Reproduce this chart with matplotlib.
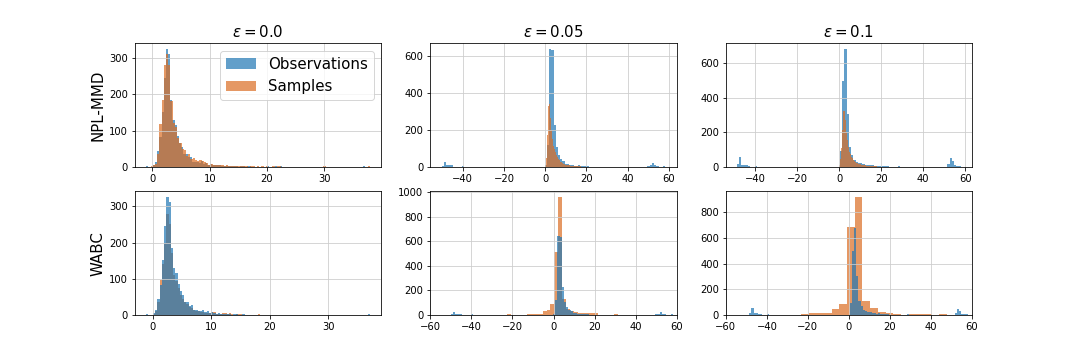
import numpy as np
import matplotlib
matplotlib.use("Agg")
import matplotlib.pyplot as plt

# --------------------------- Data (bin counts) ---------------------------

# observations, eps = 0.0 (100 bins)
OBS_EPS0_START, OBS_EPS0_WIDTH = -1.1, 0.382
OBS_EPS0 = [2, 0, 0, 6, 14, 44, 83, 151, 245, 325,
            311, 185, 130, 115, 85, 66, 55, 36, 36, 26,
            28, 14, 14, 12, 10, 15, 8, 10, 6, 8,
            5, 4, 5, 4, 3, 2, 3, 2, 1, 2,
            3, 1, 0, 2, 1, 0, 1, 1, 0, 0,
            0, 0, 0, 0, 0, 1, 0, 0, 0, 1,
            0, 1, 0, 0, 0, 0, 0, 0, 0, 0,
            0, 0, 0, 0, 0, 0, 0, 0, 0, 0,
            0, 0, 0, 0, 0, 0, 0, 0, 0, 0,
            0, 0, 0, 0, 0, 0, 0, 0, 0, 2]

# NPL-MMD samples, eps = 0.0
NPL_EPS0_START, NPL_EPS0_WIDTH = -0.73, 0.387
NPL_EPS0 = [0, 1, 4, 8, 35, 117, 183, 282, 311, 282,
            182, 120, 110, 80, 65, 50, 45, 30, 35, 22,
            25, 18, 15, 20, 16, 12, 10, 6, 8, 5,
            6, 5, 4, 5, 3, 4, 3, 2, 3, 2,
            1, 2, 1, 2, 1, 0, 1, 1, 0, 1,
            0, 1, 0, 1, 0, 0, 1, 0, 1, 1,
            0, 0, 0, 0, 0, 0, 0, 0, 0, 0,
            0, 0, 0, 0, 0, 0, 0, 0, 0, 1,
            0, 0, 0, 0, 0, 0, 0, 0, 0, 0,
            0, 0, 0, 0, 0, 0, 0, 0, 0, 1]

# WABC samples, eps = 0.0 (same bins as the observations)
WABC_EPS0 = [0, 0, 0, 3, 10, 35, 96, 140, 200, 278,
             250, 170, 110, 95, 75, 55, 45, 35, 30, 22,
             20, 14, 12, 10, 9, 8, 6, 6, 5, 9,
             7, 3, 3, 2, 5, 5, 4, 5, 2, 1,
             2, 3, 2, 1, 0, 1, 0, 0, 0, 0,
             2, 0, 0, 0, 0, 0, 0, 0, 0, 0,
             0, 0, 0, 0, 0, 0, 0, 0, 0, 0,
             0, 0, 0, 0, 0, 0, 0, 0, 0, 0,
             0, 0, 0, 0, 0, 0, 0, 0, 0, 0,
             0, 0, 0, 0, 0, 0, 0, 0, 0, 0]

# observations, eps = 0.05
OBS_EPS05_START, OBS_EPS05_WIDTH = -50.2, 1.085
OBS_EPS05 = [5, 27, 12, 12, 12, 0, 0, 0, 0, 5,
             0, 0, 0, 0, 0, 0, 0, 0, 0, 0,
             0, 0, 0, 0, 0, 0, 0, 0, 0, 0,
             0, 0, 0, 0, 0, 0, 0, 0, 0, 0,
             0, 0, 0, 0, 0, 0, 10, 120, 640, 635,
             228, 110, 65, 42, 29, 16, 13, 10, 8, 6,
             5, 12, 4, 3, 4, 4, 1, 0, 0, 0,
             0, 0, 0, 0, 0, 0, 0, 0, 0, 0,
             0, 0, 0, 0, 0, 0, 0, 0, 0, 0,
             0, 0, 5, 10, 22, 10, 5, 0, 0, 5]

# NPL-MMD samples, eps = 0.05
NPL_EPS05_START, NPL_EPS05_WIDTH = -1.0, 0.245
NPL_EPS05 = [0, 1, 0, 2, 8, 20, 45, 90, 170, 250,
             330, 362, 340, 300, 265, 230, 200, 175, 150, 130,
             115, 103, 95, 85, 78, 70, 62, 56, 52, 48,
             42, 38, 34, 30, 28, 26, 24, 22, 20, 18,
             16, 15, 14, 13, 12, 11, 10, 9, 9, 8,
             8, 7, 7, 6, 6, 6, 5, 5, 5, 4,
             4, 4, 3, 3, 3, 3, 3, 3, 2, 2,
             2, 2, 2, 2, 2, 1, 1, 1, 0, 1,
             0, 1, 0, 0, 1, 0, 1, 0, 0, 1,
             0, 0, 1, 0, 0, 0, 1, 0, 0, 1]

# WABC samples, eps = 0.05
WABC_EPS05_START, WABC_EPS05_WIDTH = -22.7, 1.93
WABC_EPS05 = [8, 0, 0, 0, 0, 8, 8, 8, 8, 35,
              40, 90, 516, 959, 130, 45, 30, 22, 16, 15,
              14, 18, 18, 0, 0, 0, 0, 8]

# observations, eps = 0.1
OBS_EPS10_START, OBS_EPS10_WIDTH = -48.6, 1.065
OBS_EPS10 = [17, 54, 12, 12, 8, 5, 0, 0, 5, 0,
             0, 0, 0, 0, 0, 0, 0, 0, 0, 0,
             0, 0, 0, 0, 0, 0, 0, 0, 0, 0,
             0, 0, 0, 0, 0, 0, 0, 0, 0, 0,
             0, 0, 0, 0, 0, 0, 92, 496, 681, 306,
             113, 69, 40, 30, 24, 20, 15, 12, 10, 12,
             8, 6, 5, 4, 3, 3, 2, 2, 1, 0,
             0, 0, 5, 0, 0, 0, 0, 0, 0, 0,
             0, 0, 0, 0, 0, 0, 0, 0, 0, 0,
             0, 0, 0, 0, 17, 48, 35, 8, 7, 7]

# NPL-MMD samples, eps = 0.1
NPL_EPS10_START, NPL_EPS10_WIDTH = -1.0, 0.23
NPL_EPS10 = [1, 0, 2, 0, 3, 8, 20, 45, 90, 110,
             160, 210, 271, 320, 338, 325, 306, 270, 233, 200,
             175, 155, 130, 115, 100, 88, 78, 71, 64, 58,
             52, 48, 45, 42, 38, 35, 32, 30, 28, 26,
             24, 22, 21, 20, 18, 17, 16, 15, 14, 13,
             12, 12, 11, 10, 10, 9, 9, 8, 8, 7,
             7, 6, 6, 6, 5, 5, 5, 5, 4, 4,
             4, 4, 3, 3, 3, 3, 3, 2, 2, 2,
             2, 2, 2, 1, 1, 1, 2, 1, 1, 1,
             0, 1, 1, 0, 1, 0, 1, 0, 0, 1]

# WABC samples, eps = 0.1
WABC_EPS10_START, WABC_EPS10_WIDTH = -23.4, 3.75
WABC_EPS10 = [8, 18, 18, 18, 49, 86, 683, 917, 109, 57,
              21, 18, 8, 0, 8, 8, 8, 0, 8, 0]

EPSILONS = ['0.0', '0.05', '0.1']
METHODS = ['NPL-MMD', 'WABC']

OBS_COLOR = 'tab:blue'
SAMPLE_COLOR = '#da6d22'

# --------------------------- Helpers ---------------------------

def draw_hist(ax, counts, start, width, color, label=None):
    """Draw a histogram from pre-counted bins"""
    counts = np.asarray(counts, dtype=float)
    edges = start + width * np.arange(len(counts) + 1)
    centers = 0.5 * (edges[:-1] + edges[1:])
    ax.hist(centers, bins=edges, weights=counts, color=color, alpha=0.7, label=label)


obs = [(OBS_EPS0, OBS_EPS0_START, OBS_EPS0_WIDTH),
       (OBS_EPS05, OBS_EPS05_START, OBS_EPS05_WIDTH),
       (OBS_EPS10, OBS_EPS10_START, OBS_EPS10_WIDTH)]
npl = [(NPL_EPS0, NPL_EPS0_START, NPL_EPS0_WIDTH),
       (NPL_EPS05, NPL_EPS05_START, NPL_EPS05_WIDTH),
       (NPL_EPS10, NPL_EPS10_START, NPL_EPS10_WIDTH)]
wabc = [(WABC_EPS0, OBS_EPS0_START, OBS_EPS0_WIDTH),
        (WABC_EPS05, WABC_EPS05_START, WABC_EPS05_WIDTH),
        (WABC_EPS10, WABC_EPS10_START, WABC_EPS10_WIDTH)]

# --------------------------- Plot ---------------------------

fig, axs = plt.subplots(2, 3, figsize=(15, 5), dpi=72)
fig.subplots_adjust(bottom=0.125)

for j in range(3):
    # top row: NPL-MMD, observations under samples
    ax = axs[0, j]
    draw_hist(ax, *obs[j], color=OBS_COLOR, label='Observations')
    draw_hist(ax, *npl[j], color=SAMPLE_COLOR, label='Samples')
    ax.set_title(r'$\epsilon = %s$' % EPSILONS[j], fontsize=15)
    ax.grid(True, color='#cccccc')

    # bottom row: WABC, samples under observations
    ax = axs[1, j]
    draw_hist(ax, *wabc[j], color=SAMPLE_COLOR)
    draw_hist(ax, *obs[j], color=OBS_COLOR)
    ax.grid(True, color='#cccccc')
    if j > 0:
        ax.set_xlim(-60, 60)

axs[0, 0].set_ylabel(METHODS[0], fontsize=15)
axs[1, 0].set_ylabel(METHODS[1], fontsize=15)
axs[0, 0].legend(fontsize=15)

fig.savefig('out.png', dpi=72)
